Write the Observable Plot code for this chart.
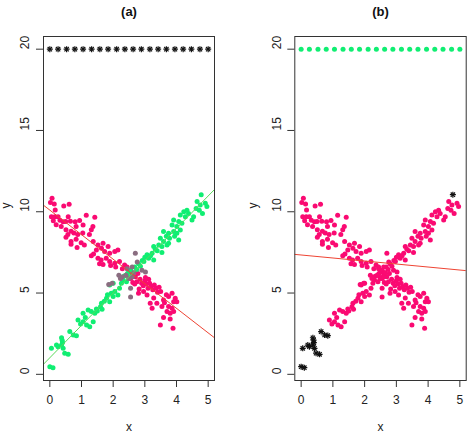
<!DOCTYPE html>
<html>
<head>
<meta charset="utf-8">
<script src="https://cdn.jsdelivr.net/npm/d3@7"></script>
<script src="https://cdn.jsdelivr.net/npm/@observablehq/plot@0.6"></script>
<style>
  body { margin: 0; background: #fff; }
  #wrap { display: flex; width: 470px; height: 440px; }
  #wrap svg { overflow: visible; }
</style>
</head>
<body>
<div id="wrap"></div>
<script>
// ---- data ----
const panelTitles = ["(a)", "(b)"];
const xTicks = [0, 1, 2, 3, 4, 5];
const yTicks = [0, 5, 10, 15, 20];

// reference row drawn at y = 20
const topRowX = [0, 0.26, 0.53, 0.79, 1.05, 1.32, 1.58, 1.84, 2.11, 2.37,
                 2.63, 2.89, 3.16, 3.42, 3.68, 3.95, 4.21, 4.47, 4.74, 5];
const topRowY = 20;

// rising group
const ascX = [0.89, 1.05, 1.16, 1.26, 1.37, 1.05, 1.21, 1.31, 1.42, 1.47, 1.50, 1.60, 1.65, 1.63, 1.79,
  1.89, 2.00, 1.94, 2.05, 1.89, 2.00, 2.15, 2.20, 2.26, 2.31, 2.42, 0.97, 1.12, 1.72, 1.82,
  2.35, 2.45, 2.50, 2.55, 2.62, 2.68, 2.74, 2.80, 2.86, 2.92,
  2.97, 3.07, 3.12, 3.23, 3.28, 3.28, 3.39, 3.44, 3.54, 3.54, 3.70, 3.49, 3.59, 3.75, 4.07,
  3.68, 3.78, 3.94, 3.59, 3.75, 3.91, 4.01, 3.86, 4.01, 4.12, 3.91, 4.07, 4.17, 4.12, 4.28,
  4.54, 4.49, 4.33, 4.38, 4.23, 4.62, 4.72, 4.82, 4.65, 4.75, 4.91, 4.96, 3.00, 3.18, 3.33];
const ascY = [3.34, 3.24, 3.03, 2.93, 3.24, 3.75, 3.96, 3.86, 3.75, 4.02, 3.90, 4.15, 4.00, 4.37, 4.68,
  4.47, 4.78, 4.98, 5.09, 5.50, 5.60, 4.88, 5.29, 5.60, 5.80, 5.70, 3.10, 3.50, 4.50, 4.90,
  6.05, 6.20, 5.95, 6.40, 6.25, 6.60, 6.45, 6.80, 6.65, 7.00,
  6.94, 7.35, 7.14, 7.45, 7.03, 7.86, 7.60, 7.96, 7.86, 7.50, 7.96, 8.37, 8.17, 8.06, 8.27,
  8.50, 8.37, 8.50, 8.78, 8.68, 8.78, 8.68, 9.19, 9.09, 8.88, 9.50, 9.40, 9.30, 9.80, 9.70,
  9.70, 9.50, 10.10, 9.90, 10.00, 10.20, 10.10, 9.90, 10.63, 10.42, 10.52, 10.32, 7.20, 7.30, 7.70];

// rising-group points shown with asterisks in panel (b)
const flagX = [0.00, 0.10, 0.05, 0.21, 0.26, 0.37, 0.39, 0.40, 0.37, 0.42, 0.47, 0.58, 0.63, 0.74, 0.84, 4.78];
const flagY = [0.47, 0.41, 1.60, 1.80, 1.70, 2.25, 2.10, 1.95, 1.80, 1.60, 1.30, 1.23, 2.63, 2.42, 2.38, 11.05];

// falling group
const descX = [0.07, 0.02, 0.14, 0.44, 0.61, 0.17, 0.05, 0.16, 0.26, 0.58, 1.15, 1.42, 0.11, 0.32, 0.42,
  0.50, 0.65, 0.80, 0.94, 1.05, 0.20, 0.36, 0.51, 0.67, 0.83, 1.36, 1.31, 0.57, 0.76, 0.88,
  1.04, 1.25, 0.51, 0.67, 0.83, 0.99, 1.09, 0.67, 0.86, 1.37, 1.52, 1.68, 1.84, 1.47, 1.63,
  1.73, 1.89, 2.05, 2.15, 1.31, 1.38, 1.52, 1.62, 1.78, 1.89, 2.05, 2.20, 2.36, 1.57, 1.68,
  1.92, 2.08, 2.29, 2.44,
  2.50, 2.60, 2.55, 2.70, 2.75, 2.85, 2.90, 2.95, 3.00, 3.05, 3.10, 3.15, 3.20, 3.25, 3.30,
  3.35, 3.40, 3.45, 3.50, 2.80, 2.96, 3.07, 3.17, 3.23, 3.38, 3.54, 3.59, 3.75, 3.86, 3.91,
  3.96, 4.01, 3.70, 3.80, 3.91, 3.75, 3.86, 3.59, 3.80, 3.49, 3.89, 2.68, 2.82, 3.12, 3.28,
  3.62, 3.68, 2.62, 2.78, 3.02];
const descY = [10.83, 10.57, 10.48, 10.36, 10.46, 10.11, 9.69, 9.69, 9.69, 9.70, 9.78, 9.66, 9.45, 9.47, 9.38,
  9.40, 9.42, 9.38, 9.46, 9.19, 9.20, 9.10, 8.90, 8.80, 9.10, 9.10, 8.90, 8.60, 8.70, 8.60,
  8.70, 8.60, 8.43, 8.17, 8.31, 8.10, 7.96, 8.00, 7.80, 8.17, 7.96, 8.06, 7.86, 7.65, 7.75,
  7.55, 7.45, 7.55, 7.65, 7.30, 7.40, 7.14, 7.03, 7.14, 6.94, 6.83, 6.94, 6.73, 6.80, 6.75,
  6.70, 6.60, 6.50, 6.60,
  6.30, 6.10, 5.90, 6.00, 5.70, 5.85, 5.60, 5.45, 5.75, 5.55, 5.30, 5.60, 5.40, 5.20, 5.50,
  5.30, 5.05, 5.35, 5.10, 4.98, 5.09, 4.88, 4.37, 4.06, 4.37, 4.17, 4.57, 4.78, 4.98, 4.47,
  4.68, 4.47, 3.86, 3.75, 3.86, 4.17, 4.06, 3.49, 3.40, 3.03, 2.83, 5.55, 5.25, 5.85, 4.70,
  4.40, 4.90, 5.65, 6.20, 5.95];

// points near the crossing, shown in grey in panel (a)
const mixX = [2.70, 2.76, 2.44, 2.60, 2.18, 2.28, 2.23, 2.49, 2.60, 2.91, 3.02, 2.55, 2.55, 1.86, 1.97, 2.65, 2.40];
const mixY = [7.45, 6.91, 6.50, 6.60, 6.09, 5.99, 5.89, 5.89, 5.99, 6.40, 6.30, 4.76, 5.30, 5.52, 5.60, 6.25, 6.10];

// fitted lines: [intercept, slope]
const fitFalling = [10.10, -1.51];
const fitRising = [1.02, 1.99];
const fitAll = [7.34, -0.185];

// ---- drawing ----
const pink = "#fa0a72";
const green = "#10ee72";
const grey = "#8a6d80";
const xDomain = [-0.2, 5.2];
const yDomain = [-0.38, 20.78];

const pts = (xs, ys) => xs.map((x, i) => ({x, y: ys[i]}));
const row = (xs, y) => xs.map(x => ({x, y}));
const seg = ([a, b]) => xDomain.map(x => ({x, y: a + b * x}));

const dots = (data, fill) => Plot.dot(data, {x: "x", y: "y", r: 2.5, fill, stroke: "none"});
const stars = (data) => [
  Plot.dot(data, {x: "x", y: "y", symbol: "plus", r: 2.1, stroke: "#111", strokeWidth: 1.2}),
  Plot.dot(data, {x: "x", y: "y", symbol: "times", r: 2.1, stroke: "#111", strokeWidth: 1.2})
];
const fitLine = (coef, stroke) => Plot.line(seg(coef), {x: "x", y: "y", stroke, strokeWidth: 1, clip: true});

function panel(title, width, marginLeft, marginRight, yLabelDx, marks) {
  return Plot.plot({
    width, height: 440,
    marginLeft, marginRight, marginTop: 36, marginBottom: 60,
    x: {domain: xDomain},
    y: {domain: yDomain},
    style: {fontFamily: "'Liberation Sans', Arial, sans-serif", fontSize: "12px", color: "#222", background: "white", overflow: "visible"},
    marks: [
      ...marks,
      Plot.frame({stroke: "#333", strokeWidth: 1}),
      Plot.axisX({ticks: xTicks, tickSize: 7, tickFormat: () => "", label: null, stroke: "#333"}),
      Plot.axisY({ticks: yTicks, tickSize: 7, tickFormat: () => "", label: null, stroke: "#333"}),
      Plot.text(xTicks, {x: d => d, frameAnchor: "bottom", dy: 20, lineAnchor: "middle", text: d => String(d), fill: "#222"}),
      Plot.text(yTicks, {y: d => d, frameAnchor: "left", dx: -18, rotate: -90, lineAnchor: "middle", text: d => String(d), fill: "#222"}),
      Plot.text(["x"], {frameAnchor: "bottom", dy: 47, lineAnchor: "middle", fill: "#222"}),
      Plot.text(["y"], {frameAnchor: "left", dx: yLabelDx, rotate: -90, lineAnchor: "middle", fill: "#222"}),
      Plot.text([title], {frameAnchor: "top", dy: -25, lineAnchor: "middle", fontWeight: "bold", fontSize: 13, fill: "#111"})
    ]
  });
}

const rising = pts(ascX, ascY);
const falling = pts(descX, descY);
const mixed = pts(mixX, mixY);
const flagged = pts(flagX, flagY);

const panelA = panel(panelTitles[0], 251, 43, 37, -37, [
  dots(falling, pink),
  dots(rising, green),
  dots(flagged, green),
  dots(mixed, grey),
  fitLine(fitRising, "#5ad85a"),
  fitLine(fitFalling, "#ee4433"),
  ...stars(row(topRowX, topRowY))
]);

const panelB = panel(panelTitles[1], 219, 43.3, 4.3, -42, [
  dots(falling, pink),
  dots(rising, pink),
  dots(mixed, pink),
  ...stars(flagged),
  fitLine(fitAll, "#ee4433"),
  dots(row(topRowX, topRowY), green)
]);

document.getElementById("wrap").append(panelA, panelB);
</script>
</body>
</html>
